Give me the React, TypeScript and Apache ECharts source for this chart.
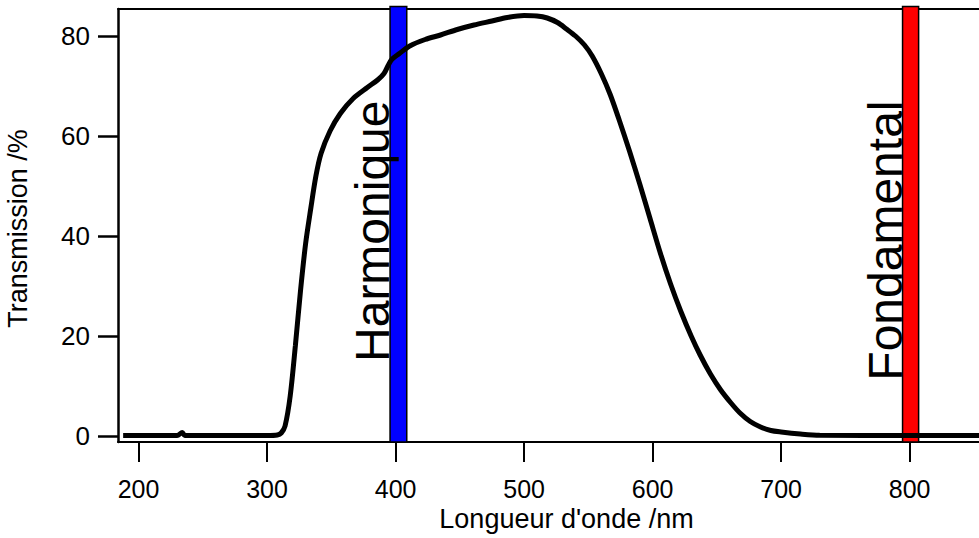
import React, { useEffect, useRef } from "react";
import * as echarts from "echarts";

// Wavelength (nm) and transmission (%)
const wavelengths = [
  188, 200, 230, 234, 236, 260, 300, 308, 311, 314, 318, 322, 326, 330, 334, 338,
  342, 349, 357, 367, 378, 386, 391, 394, 397, 403, 411, 423, 435, 448, 461, 475,
  487, 500, 510, 518, 526, 533, 540, 547, 553, 560, 567, 574, 582, 590, 598,
  606, 614, 622, 630, 637, 645, 653, 661, 668, 676, 684, 692, 700, 715, 730,
  800, 882,
];
const transmission = [
  0.1, 0.1, 0.1, 0.7, 0.1, 0.1, 0.1, 0.2, 0.6, 2, 8, 18, 29, 38.5, 45.5, 52,
  56.5, 61, 64.5, 67.5, 69.7, 71.2, 72.5, 74, 75.3, 76.5, 78, 79.3, 80.2, 81.3, 82.2, 83,
  83.7, 84.1, 84, 83.6, 82.7, 81.4, 80.0, 78.2, 76.0, 72.5, 68.3, 63.2, 57.0, 50.4, 43.5,
  36.6, 30.4, 24.9, 20.0, 16.2, 12.4, 9.2, 6.6, 4.6, 2.9, 1.8, 1.1, 0.8, 0.4, 0.15,
  0.1, 0.1,
];

const xTicks = [200, 300, 400, 500, 600, 700, 800];
const yTicks = [0, 20, 40, 60, 80];

// Laser wavelength bands
const bandNames = ["Harmonique", "Fondamental"];
const bandFrom = [395.7, 794.5];
const bandTo = [408.7, 807];
const bandColors = ["#0000ff", "#ff0000"];
const BAND_TOP = 85.9;
const LABEL_END = 67.1;

const X_MIN = 184;
const X_MAX = 882;
const Y_MIN = -1.2;
const Y_MAX = 85.4;

const FONT = "'Liberation Sans', Arial, Helvetica, sans-serif";

export default function App() {
  const ref = useRef<HTMLDivElement>(null);

  useEffect(() => {
    document.body.style.margin = "0";
    if (!ref.current) return;
    const chart = echarts.init(ref.current, undefined, { renderer: "svg" });

    const lineData = wavelengths.map((w, i) => [w, transmission[i]]);
    const bandData = bandFrom.map((f, i) => [f, bandTo[i]]);

    const option: any = {
      animation: false,
      backgroundColor: "#ffffff",
      grid: {
        left: 118,
        right: -36,
        top: 9,
        bottom: 96,
        containLabel: false,
        outerBoundsMode: "none",
      },
      xAxis: [
        {
          type: "value",
          min: X_MIN,
          max: X_MAX,
          position: "bottom",
          name: "Longueur d'onde /nm",
          nameLocation: "middle",
          nameGap: 66,
          nameMoveOverlap: false,
          nameTextStyle: { fontFamily: FONT, fontSize: 27, lineHeight: 22, color: "#000" },
          axisLine: { show: true, onZero: false, lineStyle: { color: "#000", width: 2 } },
          axisTick: {
            show: true,
            inside: false,
            length: 20,
            customValues: xTicks,
            lineStyle: { color: "#000", width: 2 },
          },
          axisLabel: {
            show: true,
            margin: 37,
            customValues: xTicks,
            fontFamily: FONT,
            fontSize: 25,
            lineHeight: 20,
            color: "#000",
          },
          splitLine: { show: false },
        },
        {
          type: "value",
          min: X_MIN,
          max: X_MAX,
          position: "top",
          axisLine: { show: true, onZero: false, lineStyle: { color: "#000", width: 2 } },
          axisTick: { show: false },
          axisLabel: { show: false },
          splitLine: { show: false },
        },
      ],
      yAxis: {
        type: "value",
        min: Y_MIN,
        max: Y_MAX,
        name: "Transmission /%",
        nameLocation: "middle",
        nameGap: 88,
        nameMoveOverlap: false,
        nameRotate: 90,
        nameTextStyle: {
          fontFamily: FONT,
          fontSize: 27,
          lineHeight: 24,
          color: "#000",
          padding: [0, 6, 0, 0],
        },
        axisLine: { show: true, onZero: false, lineStyle: { color: "#000", width: 2.5 } },
        axisTick: {
          show: true,
          inside: false,
          length: 20,
          customValues: yTicks,
          lineStyle: { color: "#000", width: 2.5 },
        },
        axisLabel: {
          show: true,
          margin: 28,
          customValues: yTicks,
          fontFamily: FONT,
          fontSize: 26,
          color: "#000",
        },
        splitLine: { show: false },
      },
      series: [
        {
          type: "custom",
          xAxisIndex: 0,
          clip: false,
          z: 2,
          data: bandData,
          renderItem: (params: any, api: any) => {
            const from = api.value(0);
            const to = api.value(1);
            const p1 = api.coord([from, BAND_TOP]);
            const p2 = api.coord([to, Y_MIN]);
            const labelPos = api.coord([from, LABEL_END]);
            const i = params.dataIndex;
            return {
              type: "group",
              children: [
                {
                  type: "rect",
                  shape: { x: p1[0], y: p1[1], width: p2[0] - p1[0], height: p2[1] - p1[1] },
                  style: { fill: bandColors[i], stroke: "#000", lineWidth: 1.5 },
                },
                {
                  type: "text",
                  x: p1[0] - 17.5,
                  y: labelPos[1],
                  rotation: Math.PI / 2,
                  style: {
                    text: bandNames[i],
                    fontFamily: FONT,
                    fontSize: 48,
                    fill: "#000",
                    align: "right",
                    verticalAlign: "middle",
                  },
                },
              ],
            };
          },
        },
        {
          type: "line",
          xAxisIndex: 0,
          z: 3,
          data: lineData,
          showSymbol: false,
          symbol: "none",
          smooth: 0.3,
          lineStyle: { color: "#000", width: 5 },
        },
      ],
    };

    chart.setOption(option);
    return () => {
      chart.dispose();
    };
  }, []);

  return <div ref={ref} style={{ width: 979, height: 538 }} />;
}
